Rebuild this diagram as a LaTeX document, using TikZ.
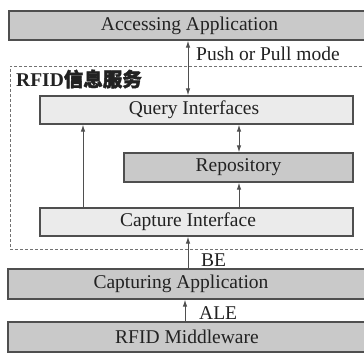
\documentclass[tikz,border=0pt]{standalone}
\usepackage{fontspec}
\setmainfont{Liberation Serif}
\newfontfamily\cjk[FakeBold=2]{Noto Sans CJK SC}
\usetikzlibrary{arrows.meta}
\definecolor{boxdark}{HTML}{C9C9C9}
\definecolor{boxlight}{HTML}{EBEBEB}
\definecolor{edge}{HTML}{4F4F4F}
\definecolor{ink}{HTML}{222222}
\tikzset{
  base/.style={draw=edge, line width=1.2pt, text=ink, inner sep=0pt,
    font=\fontsize{19.5}{22}\selectfont},
  gbox/.style={base, fill=boxdark},
  lbox/.style={base, fill=boxlight},
  frame/.style={draw=edge!80, line width=0.9pt, dash pattern=on 3pt off 2pt, inner sep=0pt},
  arr/.style={draw=edge, line width=1pt, -{Latex[length=7pt,width=4.5pt]}},
  darr/.style={draw=edge, line width=1pt, {Latex[length=7pt,width=4.5pt]}-{Latex[length=7pt,width=4.5pt]}},
  lab/.style={text=ink, inner sep=0pt, font=\fontsize{19.5}{22}\selectfont}
}
\begin{document}
\begin{tikzpicture}[x=1pt,y=-1pt]
\clip (0,0) rectangle (364,353);
\fill[white] (0,0) rectangle (364,353);
% dashed service frame
\node[frame, minimum width=362pt, minimum height=183pt] (svc) at (191,157.5) {};
\node[lab, anchor=west, font=\fontsize{19.5}{22}\selectfont\bfseries] (svclab) at (16,79) {RFID{\cjk 信息服务}};
% boxes
\node[gbox, minimum width=361pt, minimum height=29pt] (acc) at (189.5,25.5) {Accessing Application};
\node[lbox, minimum width=313pt, minimum height=28pt] (query) at (196.5,110) {\hspace*{-5pt}Query Interfaces};
\node[gbox, minimum width=229pt, minimum height=29pt] (repo) at (238.5,167.5) {Repository};
\node[lbox, minimum width=313pt, minimum height=28pt] (capi) at (196.5,222) {\hspace*{-17pt}Capture Interface};
\node[gbox, minimum width=362pt, minimum height=30pt] (capa) at (189,284) {\hspace*{-16pt}Capturing Application};
\node[gbox, minimum width=362pt, minimum height=30pt] (mid) at (189,337) {\hspace*{-4pt}RFID Middleware};
% connector columns
\coordinate (c1) at (188,0);
\coordinate (c2) at (239,0);
\coordinate (c3) at (83,0);
\coordinate (c4) at (185,0);
% connectors
\draw[darr] (acc.south -| c1) -- (query.north -| c1);
\draw[darr] (query.south -| c2) -- (repo.north -| c2);
\draw[arr] (capi.north -| c3) -- (query.south -| c3);
\draw[arr] (capi.north -| c2) -- (repo.south -| c2);
\draw[arr] (capa.north -| c1) -- (capi.south -| c1);
\draw[arr] (mid.north -| c4) -- (capa.south -| c4);
% labels
\node[lab, anchor=base west] (pp) at (196,61) {Push or Pull mode};
\node[lab, anchor=base west] (be) at (201,266) {BE};
\node[lab, anchor=base west] (ale) at (199,319) {ALE};
\end{tikzpicture}
\end{document}
